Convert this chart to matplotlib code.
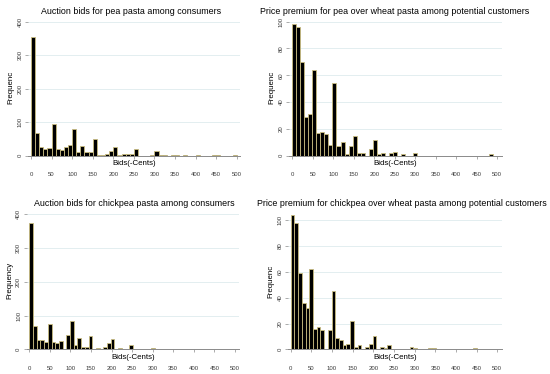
import numpy as np
import matplotlib
matplotlib.use("Agg")
import matplotlib.pyplot as plt

plt.rcParams["font.family"] = ["Liberation Sans", "DejaVu Sans"]

# histogram counts (one entry per bin, starting at 0)
pea_auction = [355, 69, 26, 20, 22, 96, 20, 18, 26, 33, 80, 10, 30, 10, 10, 51, 2, 2, 4, 13,
               27, 1, 5, 4, 4, 19, 0, 0, 0, 3, 13, 1, 1, 0, 1, 1, 0, 1, 0, 0,
               1, 0, 0, 0, 1, 1, 0, 0, 0, 1]
pea_premium = [98, 96, 70, 29, 31, 64, 17, 18, 16, 8, 54, 7, 10, 1, 7, 15, 2, 2, 0, 5,
               12, 1, 2, 0, 2, 3, 0, 1, 0, 0, 2, 0, 0, 0, 0, 0, 0, 0, 0, 0,
               0, 0, 0, 0, 0, 0, 0, 0, 0, 1]
chick_auction = [375, 69, 29, 29, 23, 74, 23, 19, 25, 0, 41, 83, 13, 33, 6, 6, 40, 0, 5, 0,
                 6, 18, 30, 0, 4, 1, 1, 13, 1, 1, 1, 0, 0, 5, 1, 0, 1, 0, 2, 0,
                 0, 0, 0, 0, 1, 0, 0, 0, 0, 1]
chick_premium = [104, 98, 59, 36, 32, 62, 16, 17, 15, 0, 15, 45, 9, 7, 3, 4, 22, 2, 3, 0,
                 2, 4, 10, 0, 2, 1, 3, 0, 0, 0, 0, 0, 2, 1, 0, 0, 0, 1, 1, 0,
                 0, 0, 0, 0, 0, 0, 0, 0, 0, 1]
bin_widths = [10, 9.8, 9, 9]

titles = ["Auction bids for pea pasta among consumers",
          "Price premium for pea over wheat pasta among potential customers",
          "Auction bids for chickpea pasta among consumers",
          "Price premium for chickpea over wheat pasta among potential customers"]
ylabels = ["Frequenc", "Frequenc", "Frequency", "Frequenc"]
yticks = [[0, 100, 200, 300, 400], [0, 20, 40, 60, 80, 100],
          [0, 100, 200, 300, 400], [0, 20, 40, 60, 80, 100]]
xticks = list(range(0, 501, 50))
counts = [pea_auction, pea_premium, chick_auction, chick_premium]

W, H = 550, 374
fig = plt.figure(figsize=(5.5, 3.74), dpi=100)

# pixel layout: axes left, right, bottom, top; pixel of x=0, x=500; top tick value & pixel
layout = [(28, 240, 155.7, 20, 31, 236.7, 400, 22),
          (289, 502, 155.7, 20, 292.3, 497.3, 100, 21.7),
          (26.7, 239.3, 349.3, 212, 29.3, 235, 400, 214.3),
          (288, 502, 349.3, 214, 290.7, 497.3, 100, 220.3)]
title_pos = [(131, 12), (395, 12), (134, 204), (402, 204)]

for i in range(4):
    l, r, b, t, x0, x5, ytv, ytp = layout[i]
    ax = fig.add_axes([l / W, 1 - b / H, (r - l) / W, (b - t) / H])
    upx = 500 / (x5 - x0)
    ax.set_xlim(-(x0 - l) * upx, 500 + (r - x5) * upx)
    ypx = ytv / (b - ytp)
    ax.set_ylim(0, (b - t) * ypx)

    c = counts[i]
    w = bin_widths[i]
    edges = np.arange(len(c)) * w
    ax.bar(edges, c, width=w, align="edge", color="black",
           edgecolor="#c9bc80", linewidth=0.6, zorder=3)

    for s in ["top", "right"]:
        ax.spines[s].set_visible(False)
    ax.spines["left"].set_visible(False)
    ax.spines["bottom"].set_color("#8a8a8a")
    ax.spines["bottom"].set_linewidth(0.7)
    ax.spines["bottom"].set_zorder(4)

    ax.set_yticks(yticks[i])
    ax.set_yticklabels([str(v) for v in yticks[i]], rotation=90, va="center",
                       fontsize=4.3, color="#3a3a3a")
    ax.tick_params(axis="y", length=2.5, width=0.5, color="#8a8a8a", pad=1.5)
    ax.set_xticks(xticks)
    ax.set_xticklabels([str(v) for v in xticks], fontsize=4.3, color="#3a3a3a")
    ax.tick_params(axis="x", length=2.5, width=0.5, color="#8a8a8a", pad=9.5)
    ax.grid(axis="y", color="#e3eef0", linewidth=0.7, zorder=0)
    ax.set_axisbelow(True)

    ax.text(0.5, -0.058, "Bids(-Cents)", transform=ax.transAxes, ha="center",
            va="center", fontsize=5.7)

    tx, ty = title_pos[i]
    fig.text(tx / W, 1 - ty / H, titles[i], ha="center", va="center", fontsize=6.4)
    fig.text((l - 17) / W, 1 - ((b + t) / 2) / H, ylabels[i], rotation=90,
             ha="center", va="center", fontsize=5.7)

fig.savefig("out.png", dpi=100, facecolor="white")
